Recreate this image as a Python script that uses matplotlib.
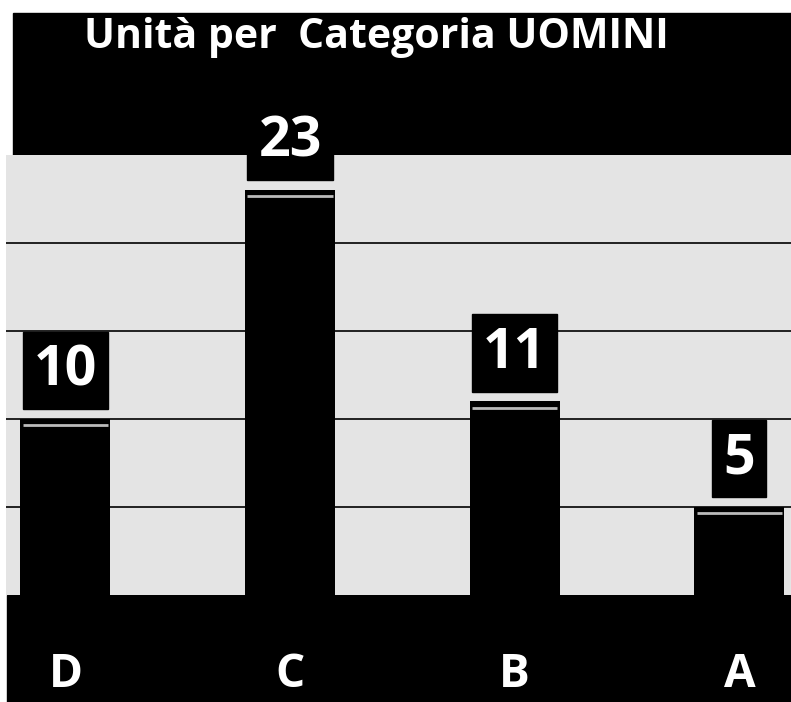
import matplotlib.pyplot as plt
from matplotlib.patches import Rectangle

categories = ['D', 'C', 'B', 'A']
values = [10, 23, 11, 5]
title = 'Unità per  Categoria UOMINI'

plt.rcParams['font.family'] = ['Open Sans', 'DejaVu Sans']

fig = plt.figure(figsize=(7.91, 7.02), dpi=100)
fig.patch.set_facecolor('white')

# black title band and bottom band
fig.add_artist(Rectangle((0.016, 1 - 155 / 702), 0.984, (155 - 13) / 702,
                         transform=fig.transFigure, color='black', zorder=0))
fig.add_artist(Rectangle((0.009, 0), 0.991, 1 - 595 / 702,
                         transform=fig.transFigure, color='black', zorder=0))
fig.text(0.476, 1 - 38 / 702, title, color='white', fontsize=29.5,
         fontweight='bold', ha='center', va='center')

ax = fig.add_axes([0.008, 1 - 595 / 702, 0.992, (595 - 155) / 702])
ax.set_facecolor('#e4e4e4')
x = range(len(categories))
bars = ax.bar(x, values, width=0.4, color='black', zorder=3)
for xi, v in zip(x, values):
    ax.hlines(v - 0.35, xi - 0.19, xi + 0.19, color='#bbbbbb', lw=2, zorder=4)
    ax.annotate(str(v), (xi, v), xytext=(0, 15), textcoords='offset points',
                ha='center', va='bottom', color='white', fontsize=40,
                fontweight='bold',
                bbox=dict(boxstyle='square,pad=0.2', fc='black', ec='black'),
                zorder=5)

ax.set_xlim(-0.263, 3.23)
ax.set_ylim(0, 25)
ax.set_yticks([5, 10, 15, 20])
ax.yaxis.grid(True, color='black', lw=1.2, zorder=1)
ax.set_axisbelow(True)
ax.tick_params(axis='y', length=0, labelleft=False)
ax.set_xticks(list(x))
ax.set_xticklabels(categories, color='white', fontsize=33, fontweight='bold')
ax.tick_params(axis='x', length=0, pad=40)
for s in ax.spines.values():
    s.set_visible(False)

fig.savefig('out.png', dpi=100)
